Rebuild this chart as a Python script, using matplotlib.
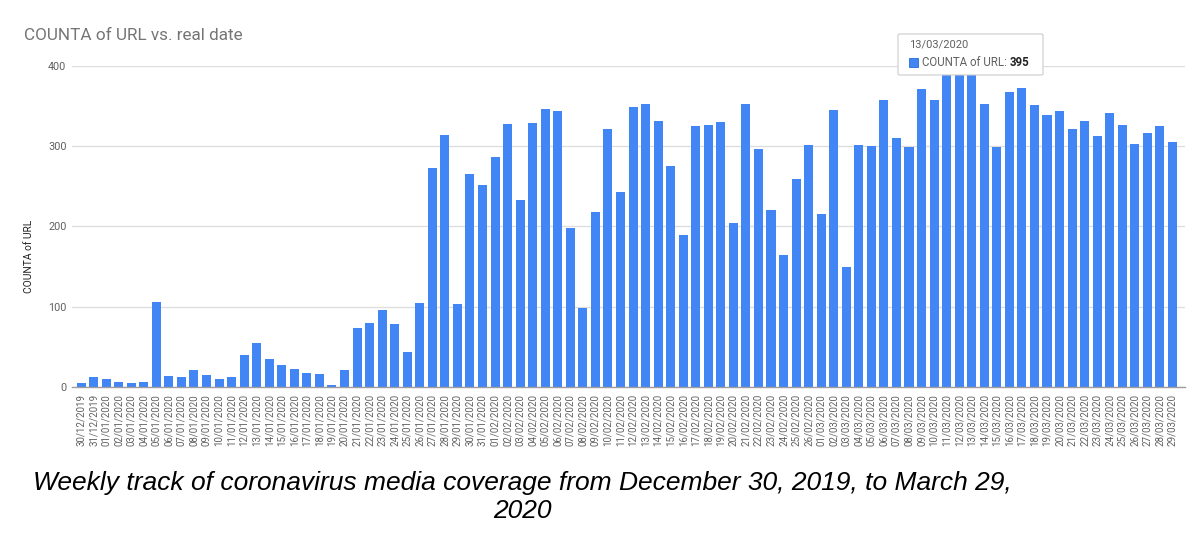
import matplotlib
matplotlib.use("Agg")
import matplotlib.pyplot as plt
from matplotlib.patches import FancyBboxPatch, Rectangle

dates = (["30/12/2019", "31/12/2019"]
         + [f"{d:02d}/01/2020" for d in range(1, 32)]
         + [f"{d:02d}/02/2020" for d in range(1, 27)]
         + [f"{d:02d}/03/2020" for d in range(1, 30)])

counts = [5, 12, 10, 6, 5, 6, 106, 14, 12, 21, 15, 10, 12, 40, 55, 35, 28, 23, 17, 16,
          3, 21, 73, 80, 96, 79, 44, 105,
          273, 314, 103, 265, 252, 287, 328, 233, 329, 347, 344, 198, 99, 218, 321, 243,
          349, 353, 332, 275, 190, 325, 326, 330, 204, 353, 296, 220, 165, 259, 302,
          215, 345, 150, 301, 300, 358, 310, 299, 371, 358, 397, 389, 395, 353, 299, 368,
          373, 351, 339, 344, 322, 331, 313, 342, 327, 303, 317, 325, 305]

title = "COUNTA of URL vs. real date"
ylabel = "COUNTA of URL"
yticks = [0, 100, 200, 300, 400]
caption = "Weekly track of coronavirus media coverage from December 30, 2019, to March 29,\n2020"
tip_date = "13/03/2020"
tip_label = "COUNTA of URL: "
tip_value = "395"

W, H = 1200, 533
fig = plt.figure(figsize=(W / 100, H / 100), dpi=100)
fig.patch.set_facecolor("white")

def fx(x):
    return x / W

def fy(y):
    return 1 - y / H

ax = fig.add_axes([fx(72), fy(387), fx(1185) - fx(72), fy(66) - fy(387)])
x = list(range(len(dates)))
ax.bar(x, counts, width=0.72, color="#4285f4", zorder=3)
ax.set_xlim(-0.72, len(dates))
ax.set_ylim(0, 400)
ax.set_yticks(yticks)
ax.set_yticklabels([str(v) for v in yticks], fontsize=7.8, color="#616161", family="Roboto")
ax.set_xticks(x)
ax.set_xticklabels(dates, rotation=90, fontsize=7.0, color="#616161", family="Roboto")
ax.tick_params(axis="y", length=0, pad=4)
ax.tick_params(axis="x", length=0, pad=5)
ax.grid(axis="y", color="#dddddd", linewidth=0.9, zorder=0)
for s in ["top", "right", "left"]:
    ax.spines[s].set_visible(False)
ax.spines["bottom"].set_color("#9e9e9e")
ax.spines["bottom"].set_linewidth(1.0)
ax.spines["bottom"].set_zorder(4)

fig.text(fx(24), fy(36), title, fontsize=12.3, color="#757575", family="Roboto",
         ha="left", va="center")
fig.text(fx(29), fy(256), ylabel, fontsize=7.4, color="#222222", family="Roboto",
         rotation=90, ha="center", va="center")

# tooltip
box = FancyBboxPatch((fx(898), fy(75)), fx(1043) - fx(898), fy(34) - fy(75),
                     boxstyle="round,pad=0,rounding_size=0.002",
                     transform=fig.transFigure, facecolor="white",
                     edgecolor="#cccccc", linewidth=0.8, zorder=10)
fig.patches.append(box)
fig.text(fx(909), fy(45), tip_date, fontsize=8.0, color="#616161", family="Roboto",
         ha="left", va="center", zorder=11)
sq = Rectangle((fx(909), fy(67)), fx(9), 9 / H, transform=fig.transFigure,
               facecolor="#4285f4", edgecolor="#2a6ad8", linewidth=0.6, zorder=11)
fig.patches.append(sq)
t = fig.text(fx(922), fy(62), tip_label, fontsize=8.3, color="#616161", family="Roboto",
             ha="left", va="center", zorder=11)
fig.canvas.draw()
bb = t.get_window_extent()
fig.text(bb.x1 / W, fy(62), tip_value, fontsize=8.3, color="#222222", family="Roboto",
         weight="bold", ha="left", va="center", zorder=11)

fig.text(fx(522), fy(497), caption, fontsize=19, style="italic", color="black",
         family=["Liberation Sans Narrow", "Liberation Sans", "DejaVu Sans"],
         ha="center", va="center", linespacing=1.2, multialignment="center")

fig.savefig("out.png", dpi=100, facecolor="white")
